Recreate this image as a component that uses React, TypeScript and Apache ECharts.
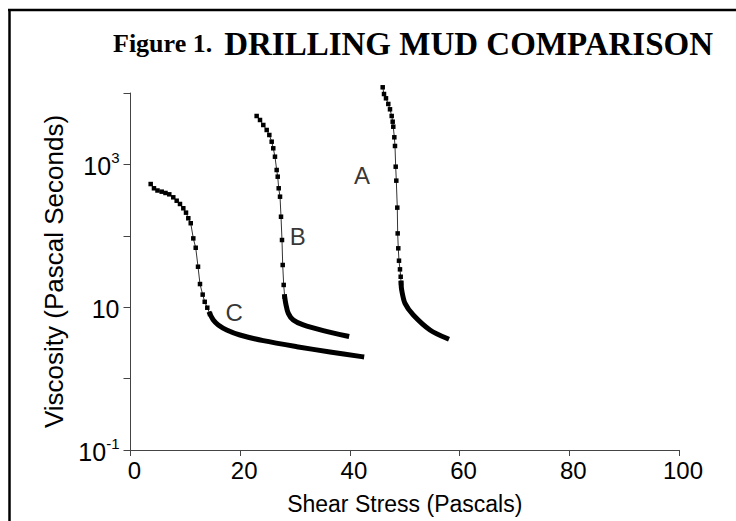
import React, { useEffect, useRef } from "react";
import * as echarts from "echarts";

// Curve A (shear stress Pa, viscosity Pa·s); points from DENSE_A onward are tightly packed markers
const curveAStress = [45.98, 46.22, 46.58, 47.0, 47.31, 47.62, 47.8, 47.91, 48.1, 48.22, 48.35, 48.46, 48.64, 48.71, 48.82, 48.95, 49.13, 49.26, 49.33, 49.44, 50.05, 51.56, 54.6, 57.65];
const curveAViscosity = [12020, 9680, 8430, 7020, 5910, 4764, 3965, 3373, 2397, 1811, 929, 592, 248, 108, 66.8, 44.8, 33.9, 26.7, 21.8, 17.4, 11.3, 7.78, 4.8, 3.67];
const DENSE_A = 18;

const curveBStress = [23.0, 23.61, 24.21, 24.83, 25.31, 25.74, 26.03, 26.34, 26.65, 26.84, 27.02, 27.26, 27.44, 27.62, 27.75, 27.93, 28.11, 28.3, 28.77, 29.68, 31.5, 35.15, 39.42];
const curveBViscosity = [4764, 4188, 3565, 3034, 2582, 2080, 1680, 1282, 835, 673, 463, 353, 185, 87.3, 39.0, 20.5, 14.0, 11.3, 8.2, 6.62, 5.64, 4.69, 3.95];
const DENSE_B = 16;

const curveCStress = [3.68, 4.28, 4.92, 5.69, 6.38, 7.07, 7.8, 8.42, 9.02, 9.63, 10.12, 10.54, 10.98, 11.45, 11.89, 12.31, 12.67, 13.16, 13.53, 14.0, 14.49, 15.1, 16.0, 17.54, 19.96, 24.21, 30.3, 36.37, 42.15];
const curveCViscosity = [531, 463, 431, 415, 398, 381, 346, 310, 279, 243, 211, 176, 150, 92, 68, 36.9, 21.1, 15.0, 11.9, 9.84, 8.03, 6.62, 5.64, 4.8, 4.08, 3.4, 2.8, 2.36, 2.03];
const DENSE_C = 20;

const curveLabels = ["A", "B", "C"];
const labelStress = [42.2, 30.5, 18.9];
const labelViscosity = [688, 99, 8.3];

const xTicks = [0, 20, 40, 60, 80, 100];
const yLabelExponents = [-1, 1, 3];

const titleSmall = "Figure 1.";
const titleLarge = "DRILLING MUD COMPARISON";
const xTitle = "Shear Stress (Pascals)";
const yTitle = "Viscosity (Pascal Seconds)";

function pairs(xs: number[], ys: number[], from: number, to: number) {
  const out: number[][] = [];
  for (let i = from; i < to; i++) out.push([xs[i], ys[i]]);
  return out;
}

function curveSeries(xs: number[], ys: number[], split: number) {
  return [
    {
      type: "line",
      data: pairs(xs, ys, 0, split + 1),
      symbol: "rect",
      symbolSize: 4.5,
      showSymbol: true,
      clip: false,
      itemStyle: { color: "#000" },
      lineStyle: { color: "#333", width: 1 },
      z: 3,
    },
    {
      type: "line",
      data: pairs(xs, ys, split, xs.length),
      symbol: "none",
      clip: false,
      smooth: 0.3,
      lineStyle: { color: "#000", width: 5, cap: "square", join: "round" },
      z: 2,
    },
  ];
}

export default function App() {
  const ref = useRef<HTMLDivElement>(null);
  useEffect(() => {
    if (!ref.current) return;
    const chart = echarts.init(ref.current, null, { renderer: "svg" });
    const font = "Arial, 'Liberation Sans', sans-serif";
    const serif = "'Liberation Serif', 'Times New Roman', serif";
    chart.setOption({
      animation: false,
      backgroundColor: "#fff",
      title: {
        text: `{a|${titleSmall}}{g| }{b|${titleLarge}}`,
        left: 108,
        top: 22,
        textStyle: {
          rich: {
            a: { fontFamily: serif, fontWeight: "bold", fontSize: 26, color: "#000" },
            g: { fontFamily: serif, fontSize: 12, width: 12 },
            b: { fontFamily: serif, fontWeight: "bold", fontSize: 33, color: "#000" },
          },
        },
      },
      graphic: [
        { type: "line", shape: { x1: 8, y1: 10, x2: 736, y2: 10 }, style: { stroke: "#000", lineWidth: 2.5 } },
        { type: "line", shape: { x1: 9.5, y1: 9, x2: 9.5, y2: 521 }, style: { stroke: "#000", lineWidth: 2.5 } },
      ],
      grid: { left: 130.5, right: 57, top: 93, bottom: 71, outerBoundsMode: "none" },
      xAxis: {
        type: "value",
        min: xTicks[0],
        max: xTicks[xTicks.length - 1],
        interval: 20,
        name: xTitle,
        nameLocation: "middle",
        nameGap: 42,
        nameTextStyle: { fontFamily: font, fontSize: 23, color: "#000" },
        axisLine: { lineStyle: { color: "#444", width: 1 } },
        axisTick: { show: true, length: 6, lineStyle: { color: "#444" } },
        splitLine: { show: false },
        axisLabel: { fontFamily: font, fontSize: 24, color: "#000", margin: 8, padding: [0, 0, 0, 8] },
      },
      yAxis: {
        type: "log",
        logBase: 10,
        min: 0.1,
        max: 10000,
        name: yTitle,
        nameLocation: "middle",
        nameGap: 55,
        nameTextStyle: { fontFamily: font, fontSize: 26, color: "#000" },
        axisLine: { show: true, lineStyle: { color: "#444", width: 1 } },
        axisTick: { show: true, length: 7, lineStyle: { color: "#444" } },
        splitLine: { show: false },
        axisLabel: {
          fontFamily: font,
          fontSize: 25,
          color: "#000",
          margin: 11,
          formatter: (v: number) => {
            const e = Math.round(Math.log10(v));
            if (!yLabelExponents.includes(e)) return "";
            if (e === 1) return "{base|10}";
            return `{base|10}{sup|${e}}`;
          },
          rich: {
            base: { fontFamily: font, fontSize: 25, color: "#000", lineHeight: 28, verticalAlign: "bottom" },
            sup: { fontFamily: font, fontSize: 15, color: "#000", lineHeight: 28, verticalAlign: "top", padding: [0, 0, 9, 0] },
          },
        },
      },
      series: [
        ...curveSeries(curveAStress, curveAViscosity, DENSE_A),
        ...curveSeries(curveBStress, curveBViscosity, DENSE_B),
        ...curveSeries(curveCStress, curveCViscosity, DENSE_C),
        {
          type: "scatter",
          data: curveLabels.map((n, i) => ({ name: n, value: [labelStress[i], labelViscosity[i]] })),
          symbolSize: 1,
          itemStyle: { color: "transparent" },
          label: {
            show: true,
            position: "inside",
            formatter: (p: any) => p.name,
            fontFamily: font,
            fontSize: 24,
            color: "#000",
          },
          z: 5,
        },
      ],
    });
    return () => chart.dispose();
  }, []);
  return <div ref={ref} style={{ width: 736, height: 521, position: "absolute", left: 0, top: 0 }} />;
}
